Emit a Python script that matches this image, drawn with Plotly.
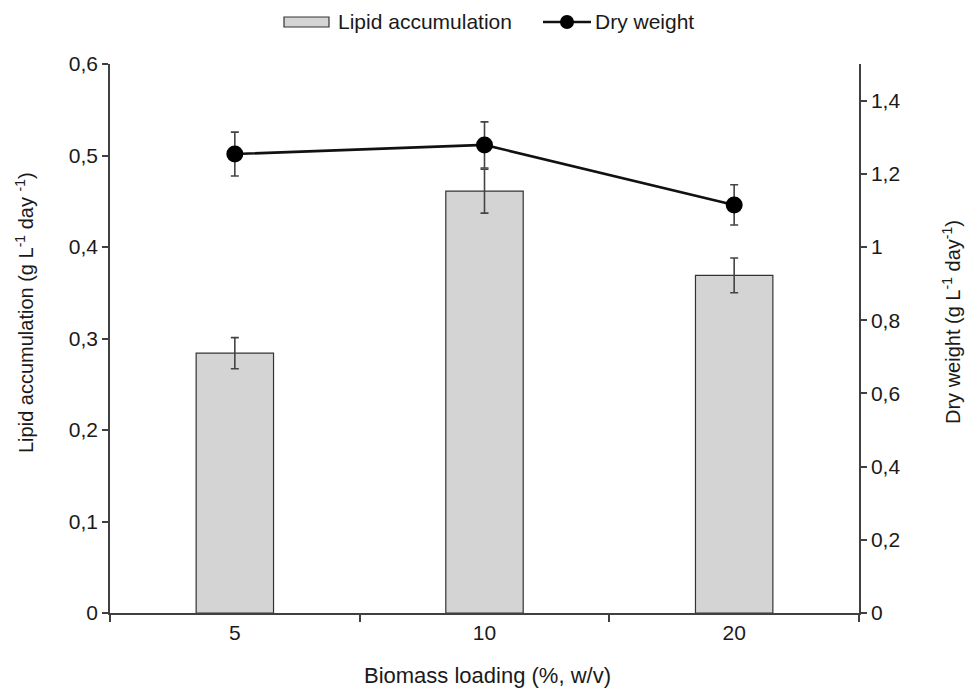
import plotly.graph_objects as go

loading = ["5", "10", "20"]
lipid = [0.284, 0.461, 0.369]
lipid_err = [0.017, 0.024, 0.019]
dry = [1.254, 1.279, 1.115]
dry_err = [0.060, 0.063, 0.055]
legend_labels = ["Lipid accumulation", "Dry weight"]
y1_title = "Lipid accumulation (g L<sup>-1</sup> day <sup>-1</sup>)"
y2_title = "Dry weight (g L<sup>-1</sup> day<sup>-1</sup>)"
x_title = "Biomass loading (%, w/v)"

W, H = 971, 691
ML, MR, MT, MB = 110, 112, 64, 78
PW, PH = W - ML - MR, H - MT - MB


def px(x):
    return (x - ML) / PW


def py(y):
    return (H - MB - y) / PH


axis_col = "#404040"
font_fam = "Liberation Sans, Arial, sans-serif"
bar_fill = "#d4d4d4"
bar_line = "#333333"

fig = go.Figure()
fig.add_trace(go.Bar(
    x=loading, y=lipid, name=legend_labels[0], width=0.31,
    marker=dict(color=bar_fill, line=dict(color=bar_line, width=1.2)),
    error_y=dict(type="data", array=lipid_err, color="#444444", thickness=1.6, width=4),
))
fig.add_trace(go.Scatter(
    x=loading, y=dry, name=legend_labels[1], yaxis="y2", mode="lines+markers",
    line=dict(color="#111111", width=2.6),
    marker=dict(color="#000000", size=17),
    error_y=dict(type="data", array=dry_err, color="#444444", thickness=1.6, width=4),
))

# custom legend (icons + real text)
shapes = [
    dict(type="rect", xref="paper", yref="paper", x0=px(284), x1=px(329), y0=py(27), y1=py(17),
         fillcolor=bar_fill, line=dict(color=bar_line, width=1.2)),
    dict(type="line", xref="paper", yref="paper", x0=px(543), x1=px(591), y0=py(22), y1=py(22),
         line=dict(color="#111111", width=2.6)),
    dict(type="circle", xref="paper", yref="paper", xsizemode="pixel", ysizemode="pixel",
         xanchor=px(567), yanchor=py(22), x0=-7, x1=7, y0=-7, y1=7,
         fillcolor="#000000", line=dict(color="#000000", width=0)),
]
annotations = [
    dict(text=legend_labels[0], xref="paper", yref="paper", x=px(336), y=py(22),
         xanchor="left", yanchor="middle", showarrow=False, font=dict(size=21)),
    dict(text=legend_labels[1], xref="paper", yref="paper", x=px(593), y=py(22),
         xanchor="left", yanchor="middle", showarrow=False, font=dict(size=21)),
    dict(text=y1_title, xref="paper", yref="paper", x=px(24), y=py(313), textangle=-90,
         xanchor="center", yanchor="middle", showarrow=False, font=dict(size=20)),
    dict(text=y2_title, xref="paper", yref="paper", x=px(951), y=py(322), textangle=-90,
         xanchor="center", yanchor="middle", showarrow=False, font=dict(size=20)),
    dict(text=x_title, xref="paper", yref="paper", x=px(487), y=py(675),
         xanchor="center", yanchor="middle", showarrow=False, font=dict(size=22)),
]

fig.update_layout(
    width=W, height=H,
    margin=dict(l=ML, r=MR, t=MT, b=MB),
    paper_bgcolor="white", plot_bgcolor="white",
    separators=", ",
    font=dict(family=font_fam, size=21, color="#1a1a1a"),
    showlegend=False,
    shapes=shapes,
    annotations=annotations,
    xaxis=dict(type="category", showline=True, linecolor=axis_col, linewidth=1.5,
               ticks="outside", tickson="boundaries", ticklen=7, tickcolor=axis_col,
               tickwidth=1.5, showgrid=False, zeroline=False, tickfont=dict(size=21),
               automargin=False),
    yaxis=dict(range=[0, 0.6], dtick=0.1, showline=True, linecolor=axis_col, linewidth=1.5,
               ticks="outside", ticklen=6, tickcolor=axis_col, tickwidth=1.5,
               showgrid=False, zeroline=False, tickformat=",.1~f", tickfont=dict(size=21),
               automargin=False),
    yaxis2=dict(range=[0, 1.5], tickvals=[0, 0.2, 0.4, 0.6, 0.8, 1.0, 1.2, 1.4],
                overlaying="y", side="right", showline=True, linecolor=axis_col,
                linewidth=1.5, ticks="outside", ticklen=6, tickcolor=axis_col,
                tickwidth=1.5, showgrid=False, zeroline=False, tickformat=",.1~f",
                tickfont=dict(size=21), automargin=False),
)

fig.write_html("out.html")
